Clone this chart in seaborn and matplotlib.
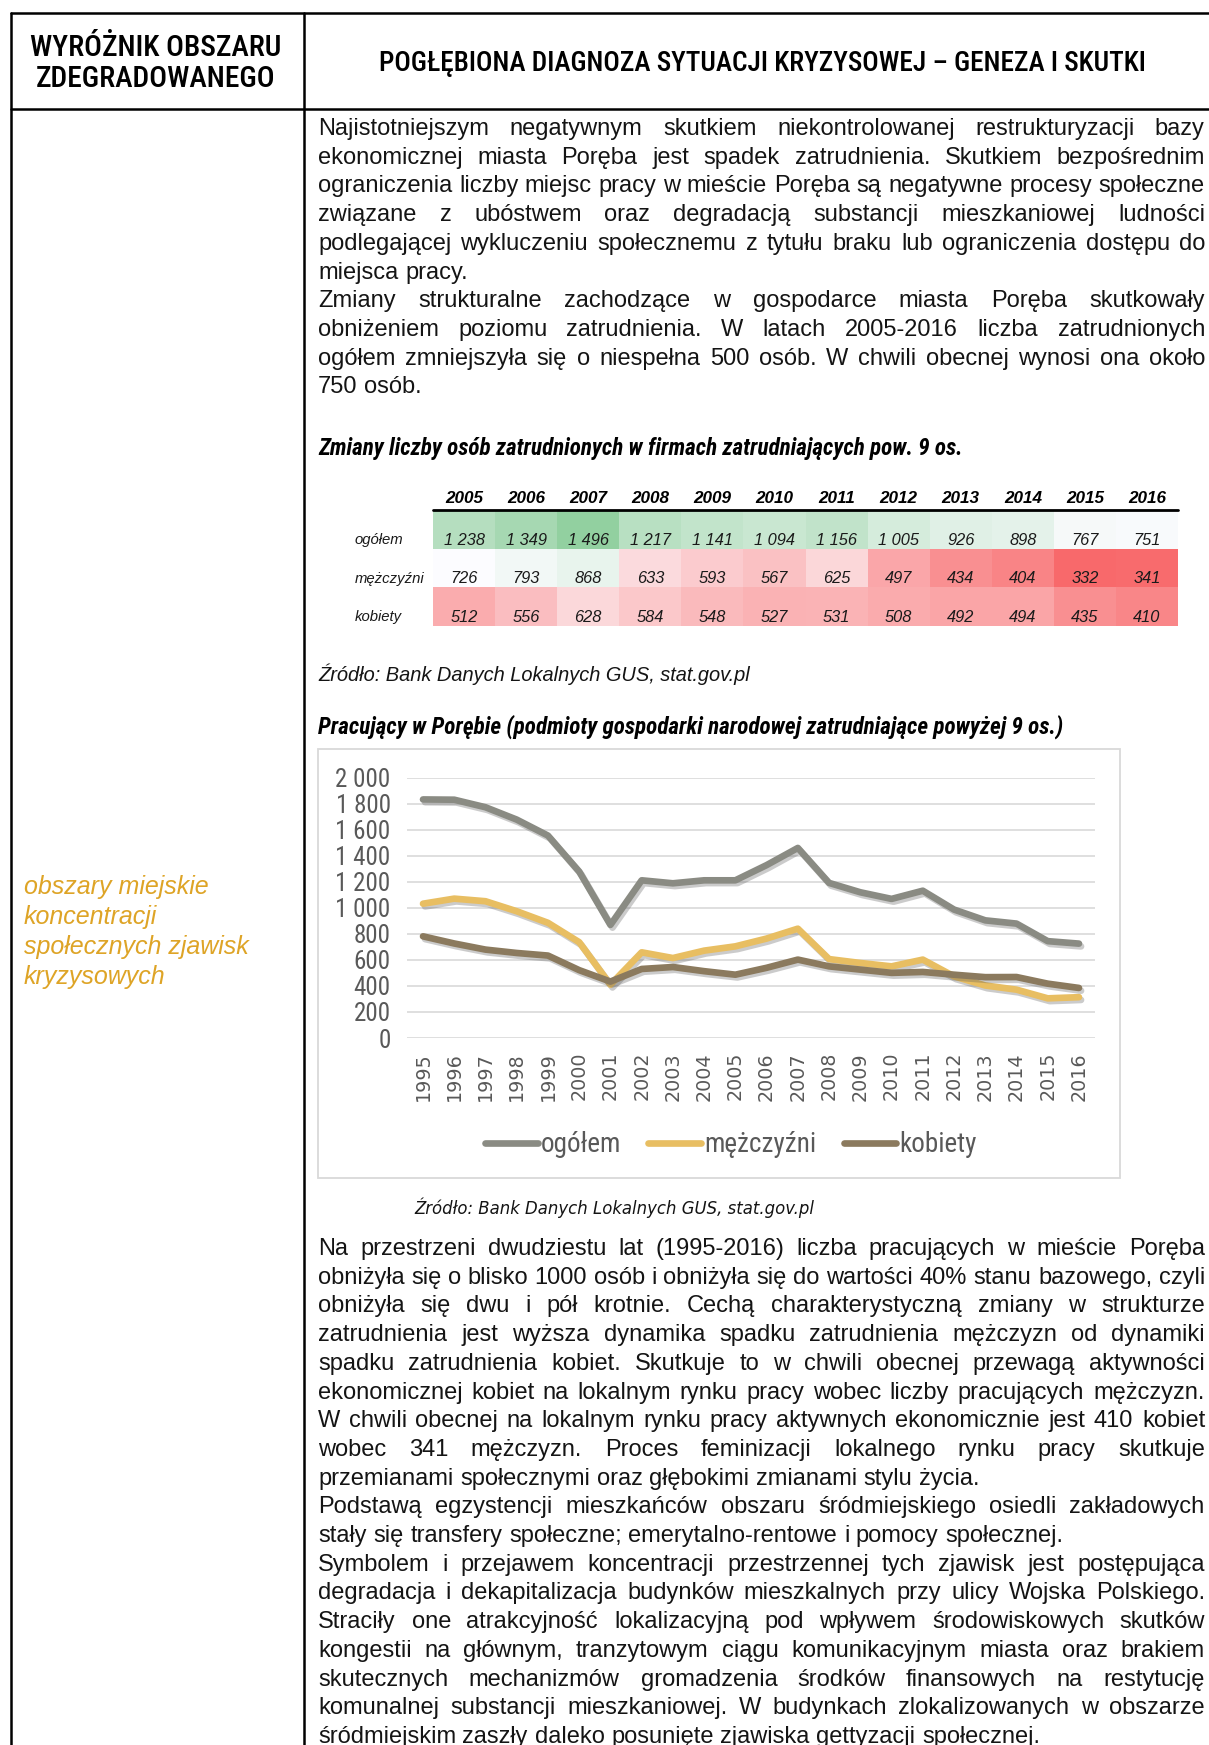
import numpy as np
import pandas as pd
import seaborn as sns
import matplotlib.pyplot as plt
import matplotlib.patheffects as pe
from matplotlib import font_manager as fm
from matplotlib.colors import LinearSegmentedColormap, TwoSlopeNorm
from matplotlib.lines import Line2D
from matplotlib.patches import Rectangle
from matplotlib.ticker import FuncFormatter
from matplotlib.transforms import blended_transform_factory

# --- table data (zatrudnieni w firmach pow. 9 os.) ---
table_years = [2005, 2006, 2007, 2008, 2009, 2010, 2011, 2012, 2013, 2014, 2015, 2016]
table_rows = ['ogółem', 'mężczyźni', 'kobiety']
table_ogolem = [1238, 1349, 1496, 1217, 1141, 1094, 1156, 1005, 926, 898, 767, 751]
table_men = [726, 793, 868, 633, 593, 567, 625, 497, 434, 404, 332, 341]
table_women = [512, 556, 628, 584, 548, 527, 531, 508, 492, 494, 435, 410]

# --- chart data (pracujący w Porębie) ---
chart_years = list(range(1995, 2017))
chart_ogolem = [1835, 1833, 1775, 1680, 1557, 1280, 870, 1213, 1190, 1213, 1213,
                1330, 1462, 1193, 1121, 1070, 1133, 988, 905, 880, 745, 726]
chart_men = [1033, 1072, 1052, 975, 886, 737, 410, 659, 615, 672, 705,
             765, 841, 607, 577, 551, 603, 474, 404, 372, 305, 314]
chart_women = [782, 727, 680, 654, 634, 522, 434, 531, 546, 514, 487,
               540, 603, 551, 526, 501, 508, 487, 468, 469, 418, 385]
series_names = ['ogółem', 'mężczyźni', 'kobiety']
series_colors = ['#8A8B83', '#E8BE62', '#8B7A5E']

# --- page texts ---
para_top = [
    "Najistotniejszym negatywnym skutkiem niekontrolowanej restrukturyzacji bazy",
    "ekonomicznej miasta Poręba jest spadek zatrudnienia. Skutkiem bezpośrednim",
    "ograniczenia liczby miejsc pracy w mieście Poręba są negatywne procesy społeczne",
    "związane z ubóstwem oraz degradacją substancji mieszkaniowej ludności",
    "podlegającej wykluczeniu społecznemu z tytułu braku lub ograniczenia dostępu do",
    "miejsca pracy.",
    "Zmiany strukturalne zachodzące w gospodarce miasta Poręba skutkowały",
    "obniżeniem poziomu zatrudnienia. W latach 2005-2016  liczba zatrudnionych",
    "ogółem zmniejszyła się o niespełna 500 osób. W chwili obecnej wynosi ona około",
    "750 osób.",
]
para_top_last = [5, 9]
para_bottom = [
    "Na przestrzeni dwudziestu lat (1995-2016) liczba pracujących w mieście Poręba",
    "obniżyła się o blisko 1000 osób i obniżyła się do wartości 40% stanu bazowego, czyli",
    "obniżyła się dwu i pół krotnie. Cechą charakterystyczną zmiany w strukturze",
    "zatrudnienia jest wyższa dynamika spadku zatrudnienia mężczyzn od dynamiki",
    "spadku zatrudnienia kobiet. Skutkuje to w chwili obecnej przewagą aktywności",
    "ekonomicznej kobiet na lokalnym rynku pracy wobec liczby pracujących mężczyzn.",
    "W chwili obecnej na lokalnym rynku pracy aktywnych ekonomicznie jest 410 kobiet",
    "wobec 341 mężczyzn. Proces feminizacji lokalnego rynku pracy skutkuje",
    "przemianami społecznymi oraz głębokimi zmianami stylu życia.",
    "Podstawą egzystencji mieszkańców obszaru śródmiejskiego osiedli zakładowych",
    "stały się transfery społeczne; emerytalno-rentowe i pomocy społecznej.",
    "Symbolem i przejawem koncentracji przestrzennej tych zjawisk jest postępująca",
    "degradacja i dekapitalizacja budynków mieszkalnych przy ulicy Wojska Polskiego.",
    "Straciły one atrakcyjność lokalizacyjną pod wpływem środowiskowych skutków",
    "kongestii na głównym, tranzytowym ciągu komunikacyjnym miasta oraz brakiem",
    "skutecznych mechanizmów gromadzenia środków finansowych na restytucję",
    "komunalnej substancji mieszkaniowej. W budynkach zlokalizowanych w obszarze",
    "śródmiejskim zaszły daleko posunięte zjawiska gettyzacji społecznej.",
]
para_bottom_last = [8, 10, 17]
side_lines = ['obszary miejskie', 'koncentracji', 'społecznych zjawisk', 'kryzysowych']

W, H, DPI = 1209, 1745, 100


def pick(names):
    for n in names:
        try:
            fm.findfont(fm.FontProperties(family=n), fallback_to_default=False)
            return n
        except Exception:
            continue
    return 'DejaVu Sans'


SANS = pick(['Liberation Sans', 'Arial', 'DejaVu Sans'])
NARROW = pick(['Liberation Sans Narrow', 'Roboto Condensed', 'Liberation Sans'])

sns.set_theme(style='white')
plt.rcParams['font.family'] = [SANS, 'DejaVu Sans']

fig = plt.figure(figsize=(W / DPI, H / DPI), dpi=DPI)
renderer = fig.canvas.get_renderer()


def fy(y):
    return 1 - y / H


def px_axes(l, t, r, b):
    return fig.add_axes([l / W, 1 - b / H, (r - l) / W, (b - t) / H])


def text_w(s, size, **kw):
    t = fig.text(0, 0, s, fontsize=size, **kw)
    w = t.get_window_extent(renderer).width
    t.remove()
    return w


def put(x, yc, s, size=14, width=None, ha='left', **kw):
    # yc = visual middle of the line in pixels from top
    if width is not None:
        size = size * width / text_w(s, size, **kw)
    yb = yc + 0.34 * size * DPI / 72
    fig.text(x / W, fy(yb), s, fontsize=size, ha=ha, va='baseline', **kw)
    return size


def justify(blocks, x0=318, x1=1205, step=28.7, size0=16, color='#141414'):
    avail = x1 - x0
    sp = text_w('a a', size0) - text_w('aa', size0)
    prepared = []
    dens = []
    for lines, last, y0 in blocks:
        for i, ln in enumerate(lines):
            words = ln.split()
            ws = [text_w(w, size0) for w in words]
            prepared.append((y0 + i * step, words, ws, i in last))
            if i not in last:
                dens.append(sum(ws) + sp * (len(ws) - 1))
    k = avail / max(dens)
    size = size0 * k
    for yc, words, ws, is_last in prepared:
        ws = [w * k for w in ws]
        if is_last or len(words) == 1:
            gap = sp * k
        else:
            gap = (avail - sum(ws)) / (len(words) - 1)
        x = x0
        yb = yc + 0.34 * size * DPI / 72
        for word, wd in zip(words, ws):
            fig.text(x / W, fy(yb), word, fontsize=size, ha='left', va='baseline', color=color)
            x += wd + gap


# --- page frame ---
for xs, ys in [((11, W), (13, 13)), ((11, W), (109, 109)),
               ((11, 11), (13, H)), ((304, 304), (13, H))]:
    fig.add_artist(Line2D([x / W for x in xs], [fy(y) for y in ys],
                          color='black', lw=1.8, transform=fig.transFigure))

put(156, 46, 'WYRÓŻNIK OBSZARU', size=18, width=251, ha='center', family=NARROW,
    weight='medium', color='black')
put(156, 77, 'ZDEGRADOWANEGO', size=18, width=239, ha='center', family=NARROW,
    weight='medium', color='black')
put(762, 62, 'POGŁĘBIONA DIAGNOZA SYTUACJI KRYZYSOWEJ – GENEZA I SKUTKI', size=18,
    width=769, ha='center', family=NARROW, weight='medium', color='black')

side_size = text_w(side_lines[2], 16, style='italic')
side_size = 16 * 226 / side_size
for i, s in enumerate(side_lines):
    put(24, 885 + i * 30, s, size=side_size, style='italic', color='#DEA426')

justify([(para_top, para_top_last, 127), (para_bottom, para_bottom_last, 1247)])

# --- table as heatmap ---
put(318, 447, 'Zmiany liczby osób zatrudnionych w firmach zatrudniających pow. 9 os.',
    size=13, width=642, family=NARROW, style='italic', weight='bold', color='black')

tab = pd.DataFrame([table_ogolem, table_men, table_women], index=table_rows, columns=table_years)
labels = tab.map(lambda v: f'{v:,}'.replace(',', ' '))
cmap = LinearSegmentedColormap.from_list('xl', ['#F8696B', '#FCFCFF', '#92D0A0'])
vals = tab.values
norm = TwoSlopeNorm(vmin=vals.min(), vcenter=vals.mean(), vmax=vals.max())

axh = px_axes(433, 510, 1178, 626)
sns.heatmap(tab, ax=axh, cmap=cmap, norm=norm, annot=labels, fmt='', cbar=False,
            annot_kws=dict(fontsize=11.8, style='italic', color='#1a1a1a'))
for t in axh.texts:
    t.set_y(t.get_position()[1] + 0.28)
axh.xaxis.tick_top()
axh.set_xticklabels([str(y) for y in table_years], rotation=0, fontsize=12.3,
                    style='italic', weight='bold', color='black')
axh.tick_params(axis='both', length=0)
axh.tick_params(axis='x', pad=3)
axh.set_yticks([])
axh.set_xlabel('')
axh.set_ylabel('')
axh.axhline(0, color='black', lw=2, clip_on=False)
row_tr = blended_transform_factory(fig.transFigure, axh.transData)
for i, r in enumerate(table_rows):
    axh.text(355 / W, i + 0.78, r, transform=row_tr, fontsize=10.7, style='italic',
             color='#1a1a1a', ha='left', va='center')

put(318, 674, 'Źródło: Bank Danych Lokalnych GUS, stat.gov.pl', size=13, width=432,
    style='italic', color='#141414')
put(318, 726, 'Pracujący w Porębie (podmioty gospodarki narodowej zatrudniające powyżej 9 os.)',
    size=13, width=743, family=NARROW, style='italic', weight='bold', color='black')

# --- line chart ---
fig.add_artist(Rectangle((318 / W, fy(1178)), (1120 - 318) / W, (1178 - 749) / H,
                         transform=fig.transFigure, fill=False, ec='#D9D9D9', lw=1.3))

df = pd.DataFrame({
    'rok': chart_years * 3,
    'liczba': chart_ogolem + chart_men + chart_women,
    'grupa': [n for n in series_names for _ in chart_years],
})
axc = px_axes(407.4, 778, 1094.6, 1038)
sns.lineplot(data=df, x='rok', y='liczba', hue='grupa', hue_order=series_names,
             palette=series_colors, linewidth=4.8, ax=axc, legend=False)
for ln in axc.lines:
    ln.set_solid_capstyle('round')
    ln.set_solid_joinstyle('round')
    ln.set_path_effects([pe.SimpleLineShadow(offset=(1.5, -2), shadow_color='#555555', alpha=0.3),
                         pe.Normal()])
axc.set_xlim(1994.5, 2016.5)
axc.set_ylim(0, 2000)
axc.set_yticks(range(0, 2001, 200))
axc.yaxis.set_major_formatter(FuncFormatter(lambda v, p: f'{int(v):,}'.replace(',', ' ')))
axc.set_xticks(chart_years)
axc.set_xticklabels([str(y) for y in chart_years], rotation=90, family='DejaVu Sans',
                    fontsize=13.8, color='#595959')
for lbl in axc.get_yticklabels():
    lbl.set_family(NARROW)
    lbl.set_fontsize(18)
    lbl.set_color('#595959')
axc.tick_params(axis='both', length=0)
axc.tick_params(axis='y', pad=12)
axc.tick_params(axis='x', pad=10)
axc.grid(False)
axc.yaxis.grid(True, color='#D9D9D9', lw=1.2)
axc.set_axisbelow(True)
sns.despine(ax=axc, left=True, bottom=True)
axc.set_xlabel('')
axc.set_ylabel('')

handles = [Line2D([], [], color=c, lw=4.8, solid_capstyle='round') for c in series_colors]
leg = fig.legend(handles, series_names, loc='center', bbox_to_anchor=(731 / W, fy(1145)),
                 ncol=3, frameon=False, handlelength=1.95, handletextpad=0.12,
                 columnspacing=1.0, prop=dict(family=NARROW, size=19.5))
for t in leg.get_texts():
    t.set_color('#595959')

put(414, 1208, 'Źródło: Bank Danych Lokalnych GUS, stat.gov.pl', size=11, width=399,
    family='DejaVu Sans', style='italic', color='#141414')

fig.savefig('out.png', dpi=DPI)
